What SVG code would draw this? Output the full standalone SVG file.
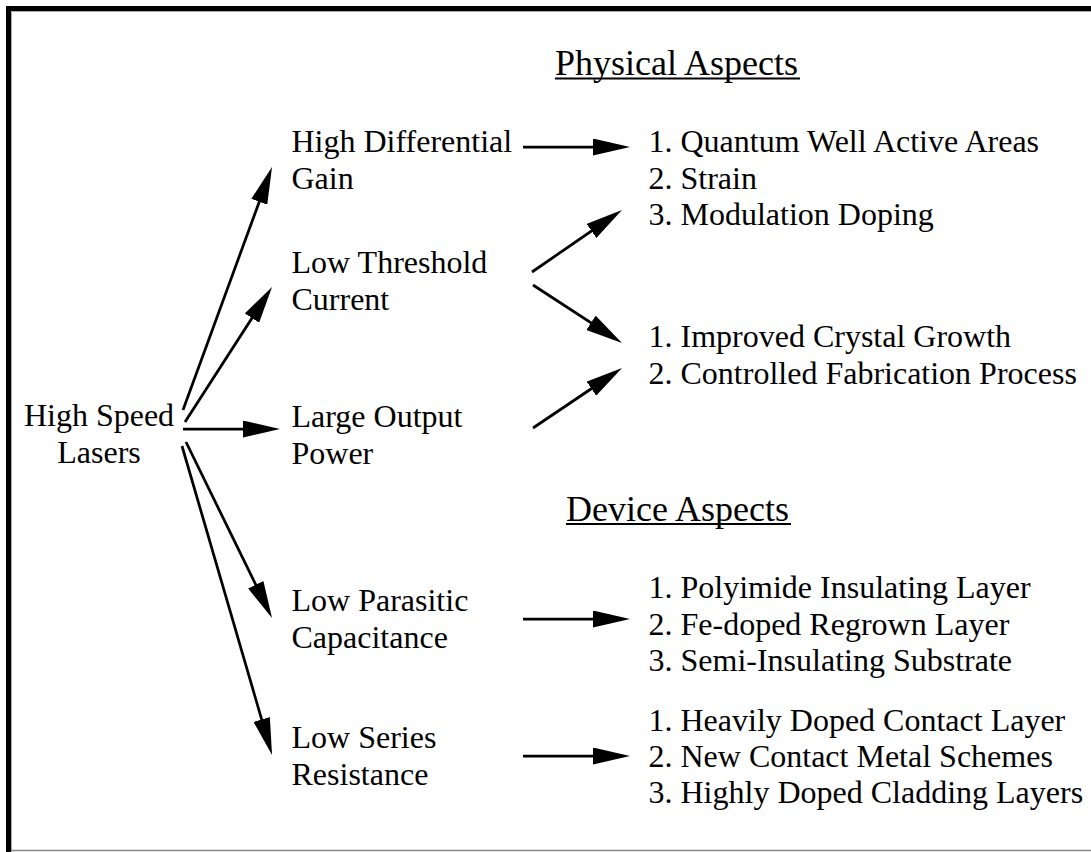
<svg xmlns="http://www.w3.org/2000/svg" width="1091" height="852" viewBox="0 0 1091 852">
<style>
text{font-family:"Liberation Serif","Times New Roman",serif;font-size:32px;fill:#000}
text.h{font-size:36px}
.c{stroke:#000;stroke-width:2.75;fill:none;marker-end:url(#ah)}
.ul{stroke:#000;stroke-width:2}
</style>
<defs>
<marker id="ah" markerUnits="userSpaceOnUse" markerWidth="37" markerHeight="17" refX="29" refY="8.5" orient="auto" viewBox="0 0 37 17">
<path d="M0,0 L37,8.5 L0,17 z" fill="#000"/>
</marker>
</defs>
<rect x="0" y="0" width="1091" height="852" fill="#fff"/>
<g id="frame">
<path d="M8.5,852 V8.5 H1091" fill="none" stroke="#000" stroke-width="5"/>
<path d="M11.5,852 V11.5 H1091" fill="none" stroke="#aaa" stroke-width="1"/>
<path d="M11,850.5 H1091" fill="none" stroke="#888" stroke-width="1.5"/>
</g>
<g id="headings">
<text class="h" x="555" y="75">Physical Aspects</text>
<line class="ul" x1="555" y1="78.5" x2="800" y2="78.5"/>
<text class="h" x="566" y="520.5">Device Aspects</text>
<line class="ul" x1="566" y1="524" x2="791" y2="524"/>
</g>
<g id="root"><text x="99" y="426" text-anchor="middle">High Speed</text><text x="99" y="463" text-anchor="middle">Lasers</text></g>
<g id="gain"><text x="291.5" y="152">High Differential</text><text x="291.5" y="189">Gain</text></g>
<g id="threshold"><text x="291.5" y="273">Low Threshold</text><text x="291.5" y="310">Current</text></g>
<g id="power"><text x="291.5" y="427">Large Output</text><text x="291.5" y="464">Power</text></g>
<g id="capacitance"><text x="291.5" y="611">Low Parasitic</text><text x="291.5" y="648">Capacitance</text></g>
<g id="resistance"><text x="291.5" y="748">Low Series</text><text x="291.5" y="785">Resistance</text></g>
<g id="list1"><text x="648.5" y="152">1. Quantum Well Active Areas</text><text x="648.5" y="188.5">2. Strain</text><text x="648.5" y="225">3. Modulation Doping</text></g>
<g id="list2"><text x="648.5" y="347">1. Improved Crystal Growth</text><text x="648.5" y="383.5">2. Controlled Fabrication Process</text></g>
<g id="list3"><text x="648.5" y="598">1. Polyimide Insulating Layer</text><text x="648.5" y="634.5">2. Fe-doped Regrown Layer</text><text x="648.5" y="671">3. Semi-Insulating Substrate</text></g>
<g id="list4"><text x="648.5" y="731">1. Heavily Doped Contact Layer</text><text x="648.5" y="767">2. New Contact Metal Schemes</text><text x="648.5" y="803">3. Highly Doped Cladding Layers</text></g>
<g id="connectors">
<line class="c" x1="183" y1="410" x2="269.25" y2="174.5"/>
<line class="c" x1="185" y1="422" x2="267.7" y2="293.7"/>
<line class="c" x1="183" y1="429" x2="272" y2="429"/>
<line class="c" x1="186" y1="442" x2="268.5" y2="610.8"/>
<line class="c" x1="182" y1="446" x2="269.8" y2="747.3"/>
<line class="c" x1="523" y1="147" x2="622" y2="147"/>
<line class="c" x1="532" y1="272" x2="615.4" y2="214.5"/>
<line class="c" x1="533" y1="285" x2="615.3" y2="338.6"/>
<line class="c" x1="533" y1="428" x2="615.4" y2="372.5"/>
<line class="c" x1="523" y1="619" x2="622" y2="619"/>
<line class="c" x1="523" y1="756" x2="622" y2="756"/>
</g>
</svg>
